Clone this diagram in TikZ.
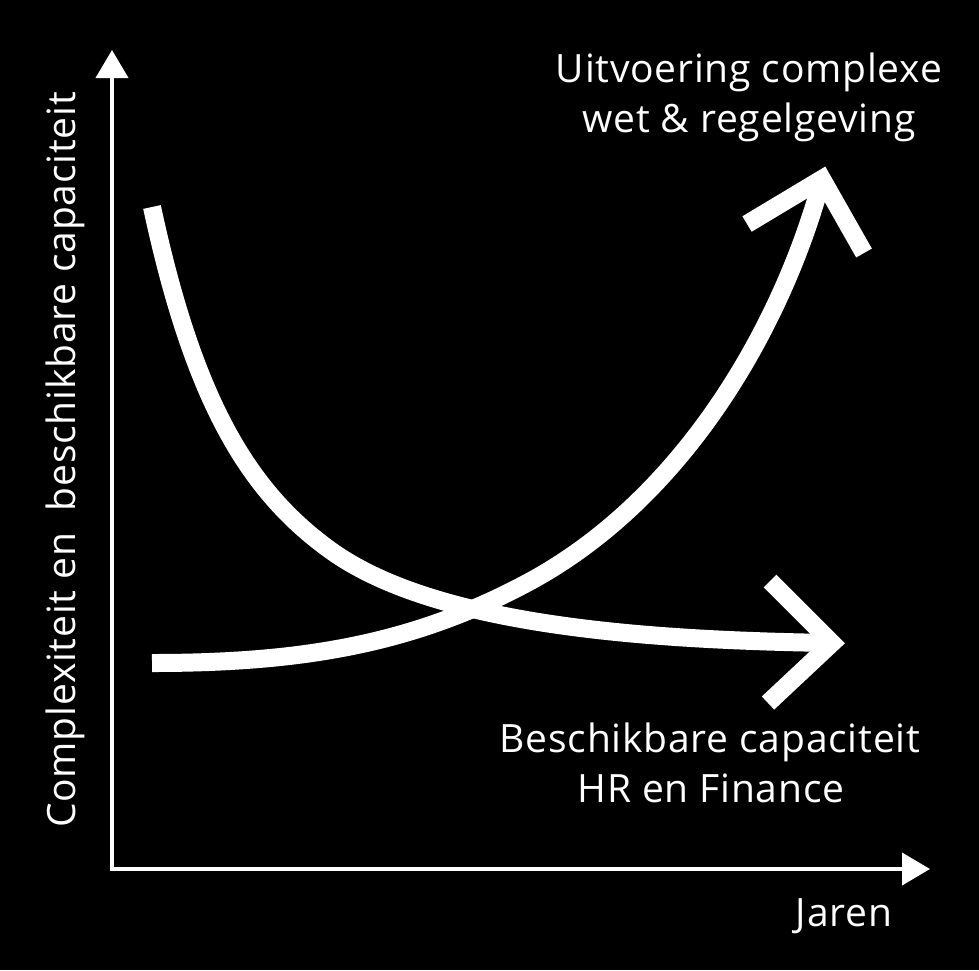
\documentclass[tikz,border=0pt]{standalone}
\usepackage{fontspec}
\setmainfont[LetterSpace=2]{Open Sans}
\usetikzlibrary{arrows.meta}
\begin{document}
\begin{tikzpicture}[x=1pt,y=-1pt,
  axis/.style={draw=white,line width=4pt,line join=miter,{Triangle[width=32pt,length=28pt]}-{Triangle[width=32pt,length=28pt]}},
  curve/.style={draw=white,line width=18pt,line cap=butt},
  chevron/.style={draw=white,line width=18pt,line join=miter,miter limit=10,line cap=butt},
  lbl/.style={text=white,font=\fontsize{39}{50}\selectfont,align=center,inner sep=0pt}]
\fill[black] (0,0) rectangle (979,970);
\useasboundingbox (0,0) rectangle (979,970);
% axes
\coordinate (ytip) at (112,50);
\coordinate (origin) at (112,869);
\coordinate (xtip) at (930,869);
\draw[axis] (ytip) -- (origin) -- (xtip);
% curve 1: decreasing capacity
\coordinate (c1start) at (152,207);
\coordinate (c1mid) at (330,550);
\coordinate (c1end) at (832,643);
\draw[curve] (c1start) .. controls (194,402.6) and (249,491.4) .. (c1mid)
  .. controls (431.3,623.3) and (632,640) .. (c1end);
\draw[chevron] (770,581) -- (c1end) -- (768,703);
% curve 2: increasing complexity
\coordinate (c2start) at (152,663);
\coordinate (c2mid) at (527,583);
\coordinate (c2end) at (822,179);
\draw[curve] (c2start) .. controls (302,663) and (412.6,644.1) .. (c2mid)
  .. controls (685.4,498.4) and (783,324) .. (c2end);
\draw[chevron] (747,224) -- (c2end) -- (864,253);
% labels
\node[lbl,anchor=base] (t1) at (749,82) {Uitvoering complexe};
\node[lbl,anchor=base] (t2) at (749,132) {wet \& regelgeving};
\node[lbl,anchor=base] (t3) at (710,752) {Beschikbare capaciteit};
\node[lbl,anchor=base] (t4) at (711,802) {HR en Finance};
\node[lbl,anchor=base] (t5) at (844,926) {Jaren};
\node[lbl,anchor=base,rotate=90] (t6) at (75,460) {Complexiteit en\ \ beschikbare capaciteit};
\end{tikzpicture}
\end{document}
